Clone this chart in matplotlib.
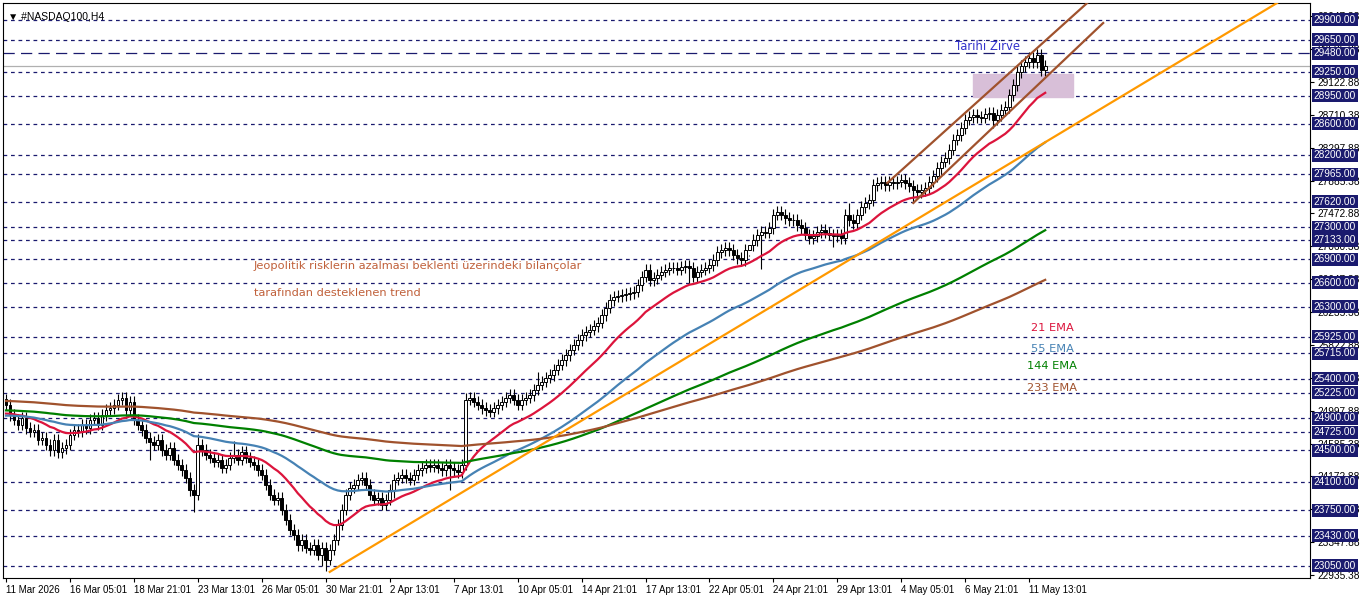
import matplotlib
matplotlib.use("Agg")
import matplotlib.pyplot as plt
import numpy as np
from matplotlib.patches import Rectangle

plt.rcParams['font.family'] = ['Liberation Sans', 'DejaVu Sans']

closes = [
25070,24944,24882,24819,24907,24781,24731,24756,24631,24656,24568,24505,24631,24480,24530,24568,
24694,24756,24731,24819,24781,24882,24907,24819,24944,25007,25032,25070,25133,25158,25007,25108,
24882,24819,24756,24656,24606,24568,24631,24505,24443,24530,24380,24317,24254,24154,24003,23941,
24568,24505,24443,24405,24355,24380,24280,24317,24405,24443,24380,24480,24405,24355,24317,24254,
24192,24066,23941,23878,23903,23753,23627,23502,23439,23313,23376,23276,23251,23313,23188,23276,
23125,23251,23376,23565,23753,23941,24029,24066,24129,24154,24066,23941,23878,23903,23815,23878,
24003,24129,24154,24192,24154,24129,24192,24254,24280,24317,24292,24317,24280,24254,24317,24280,
24254,24229,24317,25133,25158,25108,25070,25032,25007,24982,25032,25070,25108,25158,25195,25133,
25070,25133,25158,25195,25258,25321,25359,25409,25446,25509,25572,25634,25697,25760,25823,25885,
25948,25986,26011,26061,26099,26199,26287,26387,26425,26437,26450,26462,26475,26488,26575,26676,
26764,26638,26663,26701,26739,26764,26789,26789,26764,26801,26814,26789,26676,26739,26764,26789,
26826,26889,26989,27014,27040,27014,26952,26914,26889,27014,27077,27140,27203,27240,27228,27290,
27454,27491,27454,27416,27391,27391,27328,27290,27203,27165,27190,27240,27265,27228,27203,27190,
27203,27165,27454,27391,27353,27454,27554,27604,27642,27830,27855,27868,27830,27868,27855,27868,
27893,27855,27817,27767,27742,27767,27792,27868,27943,28043,28119,28169,28270,28395,28457,28545,
28646,28683,28708,28683,28671,28721,28733,28646,28708,28771,28809,28959,29085,29248,29323,29373,
29423,29373,29461,29273,29323]
first_open = 25140
long_wicks = {47: (None, 23720), 48: (24700, None), 80: (None, 22990), 79: (None, 23050),
              115: (25220, None), 111: (None, 24000), 189: (None, 26780), 211: (27600, None),
              227: (None, 27600), 207: (None, 27050), 247: (None, 28540), 259: (None, 29200),
              36: (None, 24380), 57: (24620, None), 97: (None, 23900), 171: (None, 26600),
              186: (26950, None), 133: (25480, None)}
ema_periods = [21, 55, 144, 233]
ema_seeds = [24950, 24930, 25000, 25120]
ema_colors = ["#dc143c", "#4682b4", "#008000", "#a0522d"]
levels = [29900, 29650, 29480, 29250, 28950, 28600, 28200, 27965, 27620, 27300, 27133, 26900,
          26600, 26300, 25925, 25715, 25400, 25225, 24900, 24725, 24500, 24100, 23750, 23430, 23050]
dashed_levels = [l for l in levels if l != 29480]
ytick_vals = [29947.88, 29535.38, 29122.88, 28710.38, 28297.88, 27885.38, 27472.88, 27060.38,
              26647.88, 26235.38, 25822.88, 25410.38, 24997.88, 24585.38, 24172.88, 23760.38,
              23347.88, 22935.38]
date_labels = ["11 Mar 2026", "16 Mar 05:01", "18 Mar 21:01", "23 Mar 13:01", "26 Mar 05:01",
               "30 Mar 21:01", "2 Apr 13:01", "7 Apr 13:01", "10 Apr 05:01", "14 Apr 21:01",
               "17 Apr 13:01", "22 Apr 05:01", "24 Apr 21:01", "29 Apr 13:01", "4 May 05:01",
               "6 May 21:01", "11 May 13:01"]

W, H = 1362, 603
fig = plt.figure(figsize=(W/100, H/100), dpi=100)
ax = fig.add_axes([3/W, (H-578)/H, (1310-3)/W, 575/H])
ax.set_xlim(-0.75, 326.25)
ax.set_ylim(22898, 30113)

n = len(closes)
x = np.arange(n)
c = np.array(closes, float)
o = np.concatenate([[first_open], c[:-1]])
hi = np.maximum(o, c) + 70
lo = np.minimum(o, c) - 70
for i, (h, l) in long_wicks.items():
    if h is not None: hi[i] = h
    if l is not None: lo[i] = l

for lv in dashed_levels:
    ax.axhline(lv, color="#1a1a6e", lw=0.9, ls=(0, (3, 3)), zorder=1)
ax.axhline(29480, color="#1a1a6e", lw=0.9, ls=(0, (9, 5)), zorder=1)
ax.axhline(c[-1], color="#b0b0b0", lw=0.9, zorder=1)

ax.vlines(x, lo, hi, color="black", lw=0.8, zorder=3)
up = c >= o
ax.bar(x[up], (c-o)[up], bottom=o[up], width=0.7, color="white", edgecolor="black", lw=0.7, zorder=4)
ax.bar(x[~up], (o-c)[~up], bottom=c[~up], width=0.7, color="black", edgecolor="black", lw=0.7, zorder=4)

for p, s, col in zip(ema_periods, ema_seeds, ema_colors):
    a = 2/(p+1)
    e = []
    prev = s
    for v in c:
        prev = prev + a*(v-prev)
        e.append(prev)
    ax.plot(x, e, color=col, lw=1.6, zorder=5)

ax.plot([81, 318], [22975, 30113], color="#ff9900", lw=1.6, zorder=5)
ax.plot([220.5, 270.5], [27855, 30113], color="#a0522d", lw=1.6, zorder=5)
ax.plot([227, 274.5], [27604, 29862], color="#a0522d", lw=1.6, zorder=5)
ax.add_patch(Rectangle((242, 28934), 25, 289, color="#d8bfd8", zorder=2))

dv = ['DejaVu Sans']
ax.text(237.5, 29520, "Tarihi Zirve", color="#3333cc", fontsize=8.4, zorder=6, family=dv)
ax.text(62, 26770, "Jeopolitik risklerin azalması beklenti üzerindeki bilançolar", color="#c0603a", fontsize=8.2, family=dv)
ax.text(62, 26440, "tarafından desteklenen trend", color="#c0603a", fontsize=8.2, family=dv)
for lab, col, yv, xv in zip(["21 EMA", "55 EMA", "144 EMA", "233 EMA"], ema_colors,
                            [26000, 25735, 25515, 25240], [256.5, 256.5, 255.5, 255.5]):
    ax.text(xv, yv, lab, color=col, fontsize=8.2, family=dv)

ax.yaxis.tick_right()
ax.set_yticks(ytick_vals)
ax.set_yticklabels([f"{v:.2f}" for v in ytick_vals], fontsize=7.3)
ax.tick_params(axis="y", length=3, pad=2)
for lv in levels:
    ax.text(1.003, lv, f"{lv:.2f}", transform=ax.get_yaxis_transform(), fontsize=7.3, color="white",
            va="center", ha="left", bbox=dict(boxstyle="square,pad=0.15", fc="#1a1a6e", ec="none"), zorder=10, clip_on=False)
ax.set_xticks(np.arange(len(date_labels))*16)
ax.set_xticklabels(date_labels, fontsize=7, ha="left")
ax.tick_params(axis="x", length=3, pad=2)
ax.text(0.004, 0.985, "▼ #NASDAQ100,H4", transform=ax.transAxes, fontsize=7.5, va="top")
fig.savefig("out.png", dpi=100)
